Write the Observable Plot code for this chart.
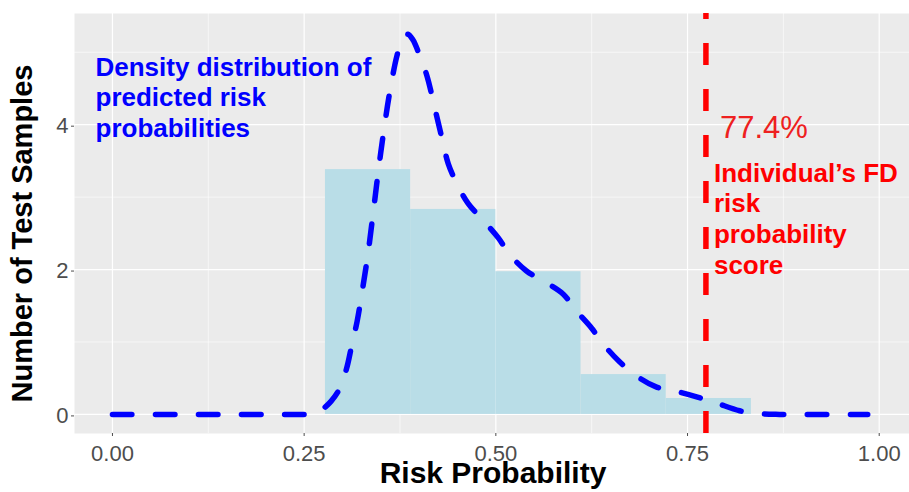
<!DOCTYPE html>
<html>
<head>
<meta charset="utf-8">
<script src="https://cdn.jsdelivr.net/npm/d3@7"></script>
<script src="https://cdn.jsdelivr.net/npm/@observablehq/plot@0.6"></script>
<style>
  html, body { margin: 0; padding: 0; background: #ffffff; }
  #chart { width: 909px; height: 492px; overflow: hidden; }
</style>
</head>
<body>
<div id="chart"></div>
<script>
// ---- data ----
const xMajor = [0, 0.25, 0.5, 0.75, 1];
const xMinor = [0.125, 0.375, 0.625, 0.875];
const yMajor = [0, 2, 4];
const yMinor = [1, 3, 5];

const binStart   = [0.2778, 0.3889, 0.5000, 0.6111, 0.7222];
const binEnd     = [0.3889, 0.5000, 0.6111, 0.7222, 0.8333];
const binDensity = [3.38, 2.83, 1.97, 0.55, 0.22];

const densityX = [0, 0.05, 0.10, 0.15, 0.20, 0.24, 0.265, 0.275, 0.285, 0.295, 0.305, 0.312, 0.319, 0.326, 0.333, 0.340, 0.347, 0.355, 0.362, 0.371, 0.378, 0.385, 0.392, 0.399, 0.410, 0.421, 0.430, 0.438, 0.449, 0.464, 0.4835, 0.503, 0.518, 0.540, 0.564, 0.588, 0.605, 0.625, 0.641, 0.661, 0.685, 0.709, 0.735, 0.763, 0.787, 0.818, 0.844, 0.870, 0.920, 0.985];
const densityY = [0, 0, 0, 0, 0, 0, 0.01, 0.08, 0.18, 0.33, 0.62, 0.95, 1.28, 1.72, 2.20, 2.78, 3.38, 4.00, 4.47, 4.95, 5.18, 5.25, 5.17, 5.00, 4.68, 4.20, 3.80, 3.46, 3.19, 2.91, 2.68, 2.44, 2.21, 1.98, 1.83, 1.66, 1.43, 1.19, 0.96, 0.73, 0.52, 0.38, 0.32, 0.24, 0.16, 0.05, 0.01, 0, 0, 0];

const score = 0.774;
const scoreLabel = d3.format(".1%")(score);
const densityNote = "Density distribution of\npredicted risk\nprobabilities";
const scoreNote = "Individual\u2019s FD\nrisk\nprobability\nscore";
const xTitle = "Risk Probability";
const yTitle = "Number of Test Samples";

// ---- derived tables ----
const bins = binStart.map((s, i) => ({x1: s, x2: binEnd[i], y: binDensity[i]}));
const density = densityX.map((x, i) => ({x, y: densityY[i]}));

const xDomain = [-0.0495, 1.0395];
const yDomain = [-0.2635, 5.535];

const font = "'Liberation Sans', Arial, Helvetica, sans-serif";

const chart = Plot.plot({
  width: 909,
  height: 492,
  marginLeft: 74,
  marginRight: 0,
  marginTop: 13,
  marginBottom: 59,
  style: {fontFamily: font, background: "#ffffff", overflow: "visible"},
  x: {domain: xDomain, label: null},
  y: {domain: yDomain, label: null},
  marks: [
    Plot.frame({fill: "#ebebeb", stroke: "none"}),
    Plot.gridX(xMinor, {stroke: "#ffffff", strokeOpacity: 1, strokeWidth: 0.6}),
    Plot.gridY(yMinor, {stroke: "#ffffff", strokeOpacity: 1, strokeWidth: 0.6}),
    Plot.gridX(xMajor, {stroke: "#ffffff", strokeOpacity: 1, strokeWidth: 1.2}),
    Plot.gridY(yMajor, {stroke: "#ffffff", strokeOpacity: 1, strokeWidth: 1.2}),
    Plot.axisX({ticks: xMajor, tickFormat: d3.format(".2f"), fontSize: 22, tickSize: 3, tickPadding: 9, color: "#4d4d4d", label: null}),
    Plot.axisY({ticks: yMajor, tickFormat: d3.format("d"), fontSize: 22, tickSize: 3, tickPadding: 3, color: "#4d4d4d", label: null, dy: 1.5}),
    Plot.rectY(bins, {x1: "x1", x2: "x2", y: "y", fill: "#b9dde7"}),
    Plot.line(density, {x: "x", y: "y", curve: "catmull-rom", stroke: "#0000ff", strokeWidth: 5.5, strokeDasharray: "19.5,23.5", strokeLinecap: "round", strokeLinejoin: "round"}),
    Plot.ruleX([score], {x: d => d, y1: () => yDomain[0], y2: () => yDomain[1], stroke: "#ff0000", strokeWidth: 5.5, strokeDasharray: "22,24"}),
    Plot.text([densityNote], {frameAnchor: "top-left", textAnchor: "start", lineAnchor: "top", dx: 21, dy: 40.5, fontSize: 26, fontWeight: "bold", fill: "#0000ff", lineHeight: 1.18}),
    Plot.text([score], {x: d => d, frameAnchor: "top", text: () => scoreLabel, textAnchor: "start", lineAnchor: "bottom", dx: 14, dy: 124.3, fontSize: 31, fill: "#ee2020"}),
    Plot.text([score], {x: d => d, frameAnchor: "top", text: () => scoreNote, textAnchor: "start", lineAnchor: "top", dx: 8, dy: 146.5, fontSize: 26, fontWeight: "bold", fill: "#ff0000", lineHeight: 1.18}),
    Plot.text([yTitle], {frameAnchor: "left", rotate: -90, textAnchor: "middle", lineAnchor: "middle", dx: -51.5, dy: 10, fontSize: 29, fontWeight: "bold", fill: "#000000"}),
    Plot.text([xTitle], {frameAnchor: "bottom", textAnchor: "middle", lineAnchor: "bottom", dx: 1, dy: 49.5, fontSize: 30, fontWeight: "bold", fill: "#000000"})
  ]
});
document.getElementById("chart").appendChild(chart);
</script>
</body>
</html>
